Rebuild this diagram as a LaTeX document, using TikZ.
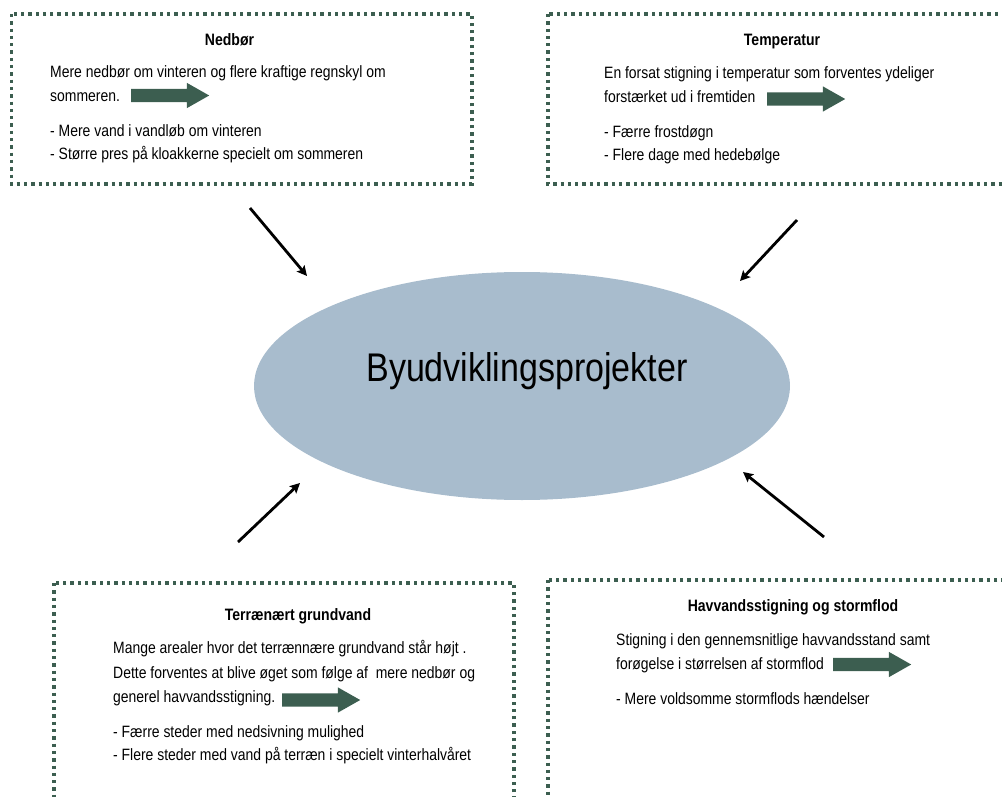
\documentclass[tikz,border=0pt]{standalone}
\usepackage{fontspec}
\setmainfont{Liberation Sans}[FakeStretch=0.85]
\usetikzlibrary{shapes.geometric,shapes.arrows,arrows.meta}
\definecolor{boxgreen}{HTML}{3C5E50}
\definecolor{ellfill}{HTML}{A8BCCD}
\tikzset{
  dotbox/.style={draw=boxgreen,line width=3.3pt,dash pattern=on 3.3pt off 4pt},
  bodytxt/.style={anchor=base west,inner sep=0pt,font=\fontsize{16.4}{19}\selectfont},
  titletxt/.style={anchor=base,inner sep=0pt,font=\fontsize{16.5}{19}\selectfont\bfseries},
  blockarrow/.style={single arrow,fill=boxgreen,draw=none,minimum height=78pt,
     text height=13pt,text depth=0pt,text width=0pt,
     single arrow head extend=6pt,single arrow tip angle=59,inner sep=0pt,anchor=west},
  flow/.style={-{Stealth[length=10pt,width=10pt,inset=2pt]},line width=2.8pt,black}
}
\begin{document}
\begin{tikzpicture}[x=1pt,y=-1pt]
\useasboundingbox (0,0) rectangle (1002,797);
\clip (0,0) rectangle (1002,797);
% boxes
\draw[dotbox] (11.5,14) rectangle (472,184);
\draw[dotbox] (548,14) rectangle (1030,184);
\draw[dotbox] (54,583) rectangle (514,830);
\draw[dotbox] (548,580) rectangle (1030,830);
% ellipse
\node[ellipse,fill=ellfill,minimum width=536pt,minimum height=228pt] (proj) at (522,386) {};
\node[inner sep=0pt,anchor=base,font=\fontsize{40}{44}\selectfont] (projtxt) at (527,381) {Byudviklingsprojekter};
% Nedbør
\node[titletxt] (t1) at (229.5,46) {Nedbør};
\node[bodytxt] (n1) at (50,78) {Mere nedbør om vinteren og flere kraftige regnskyl om};
\node[bodytxt] (n2) at (50,102) {sommeren.};
\node[blockarrow] (a1) at (131,95.5) {};
\node[bodytxt] (n3) at (50,137) {- Mere vand i vandløb om vinteren};
\node[bodytxt] (n4) at (50,160) {- Større pres på kloakkerne specielt om sommeren};
% Temperatur
\node[titletxt] (t2) at (782,46) {Temperatur};
\node[bodytxt] (m1) at (604,79) {En forsat stigning i temperatur som forventes ydeliger};
\node[bodytxt] (m2) at (604,103) {forstærket ud i fremtiden};
\node[blockarrow] (a2) at (767,99) {};
\node[bodytxt] (m3) at (604,138) {- Færre frostdøgn};
\node[bodytxt] (m4) at (604,161) {- Flere dage med hedebølge};
% Terrænært grundvand
\node[titletxt] (t3) at (298,620) {Terrænært grundvand};
\node[bodytxt] (g1) at (113,653) {Mange arealer hvor det terrænnære grundvand står højt .};
\node[bodytxt] (g2) at (113,678) {Dette forventes at blive øget som følge af\ \ mere nedbør og};
\node[bodytxt] (g3) at (113,702) {generel havvandsstigning.};
\node[blockarrow] (a3) at (282,700) {};
\node[bodytxt] (g4) at (113,737) {- Færre steder med nedsivning mulighed};
\node[bodytxt] (g5) at (113,760) {- Flere steder med vand på terræn i specielt vinterhalvåret};
% Havvandsstigning
\node[titletxt] (t4) at (793,611) {Havvandsstigning og stormflod};
\node[bodytxt] (h1) at (616,645) {Stigning i den gennemsnitlige havvandsstand samt};
\node[bodytxt] (h2) at (616,669) {forøgelse i størrelsen af stormflod};
\node[blockarrow] (a4) at (833,664.5) {};
\node[bodytxt] (h3) at (616,704) {- Mere voldsomme stormflods hændelser};
% connectors
\coordinate (s1) at (250,208); \coordinate (e1) at (307,276);
\coordinate (s2) at (797,220); \coordinate (e2) at (740,281);
\coordinate (s3) at (238,542); \coordinate (e3) at (300,483);
\coordinate (s4) at (824,537); \coordinate (e4) at (743,472);
\draw[flow] (s1) -- (e1);
\draw[flow] (s2) -- (e2);
\draw[flow] (s3) -- (e3);
\draw[flow] (s4) -- (e4);
\end{tikzpicture}
\end{document}
